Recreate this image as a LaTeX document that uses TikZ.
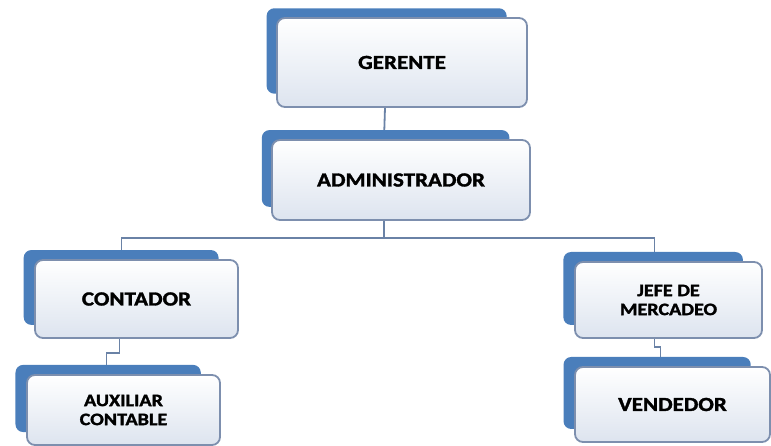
\documentclass[tikz,border=0pt]{standalone}
\usepackage{fontspec}
\setmainfont{Carlito}[FakeStretch=1.15, BoldFeatures={FakeBold=1.6}]
\usetikzlibrary{shadows, backgrounds}

\definecolor{boxblue}{HTML}{4A7EBB}
\definecolor{boxline}{HTML}{7D8FAE}
\definecolor{boxfill}{HTML}{DDE4EF}
\definecolor{linkcol}{HTML}{6A82A6}

\tikzset{
  post/.style={draw=boxline, line width=1.8pt, rounded corners=8pt,
    top color=white, bottom color=boxfill, inner sep=0pt, align=center,
    font=\bfseries\fontsize{20}{22}\selectfont,
    copy shadow={shadow xshift=-16pt, shadow yshift=12pt, shadow scale=0.96,
      fill=boxblue, draw=none}},
  small/.style={font=\bfseries\fontsize{17.5}{19}\selectfont},
  link/.style={draw=linkcol, line width=1.8pt}
}

\begin{document}
\begin{tikzpicture}[x=1pt, y=-1pt]

\useasboundingbox (0,0) rectangle (771,446);

% Top
\node[post, minimum width=250pt, minimum height=89pt] (ger) at (402,62.5) {GERENTE};
\node[post, minimum width=258pt, minimum height=80pt] (adm) at (401,180) {ADMINISTRADOR};

% Left branch
\node[post, minimum width=203pt, minimum height=78pt] (con) at (136.5,299) {CONTADOR};
\node[post, small, minimum width=193pt, minimum height=70pt] (aux) at (123.5,410) {AUXILIAR\\CONTABLE};

% Right branch
\node[post, small, minimum width=187pt, minimum height=76pt] (jef) at (668.5,300) {JEFE DE\\MERCADEO};
\node[post, minimum width=195pt, minimum height=75pt] (ven) at (672.5,404.5) {VENDEDOR};

% Connectors
\begin{scope}[on background layer]
\draw[link] ([xshift=-17pt]ger.south) -- ([xshift=-17pt]adm.north);
\draw[link] ([xshift=-17pt]adm.south) -- ++(0,17) coordinate (split);
\draw[link] (split) -| ([xshift=-15pt]con.north);
\draw[link] (split) -| ([xshift=-14pt]jef.north);
\draw[link] ([xshift=-17pt]con.south) -- ++(0,14) -| ([xshift=-17pt]aux.north);
\draw[link] ([xshift=-14pt]jef.south) -- ++(0,8) -| ([xshift=-12pt]ven.north);
\end{scope}

\end{tikzpicture}
\end{document}
